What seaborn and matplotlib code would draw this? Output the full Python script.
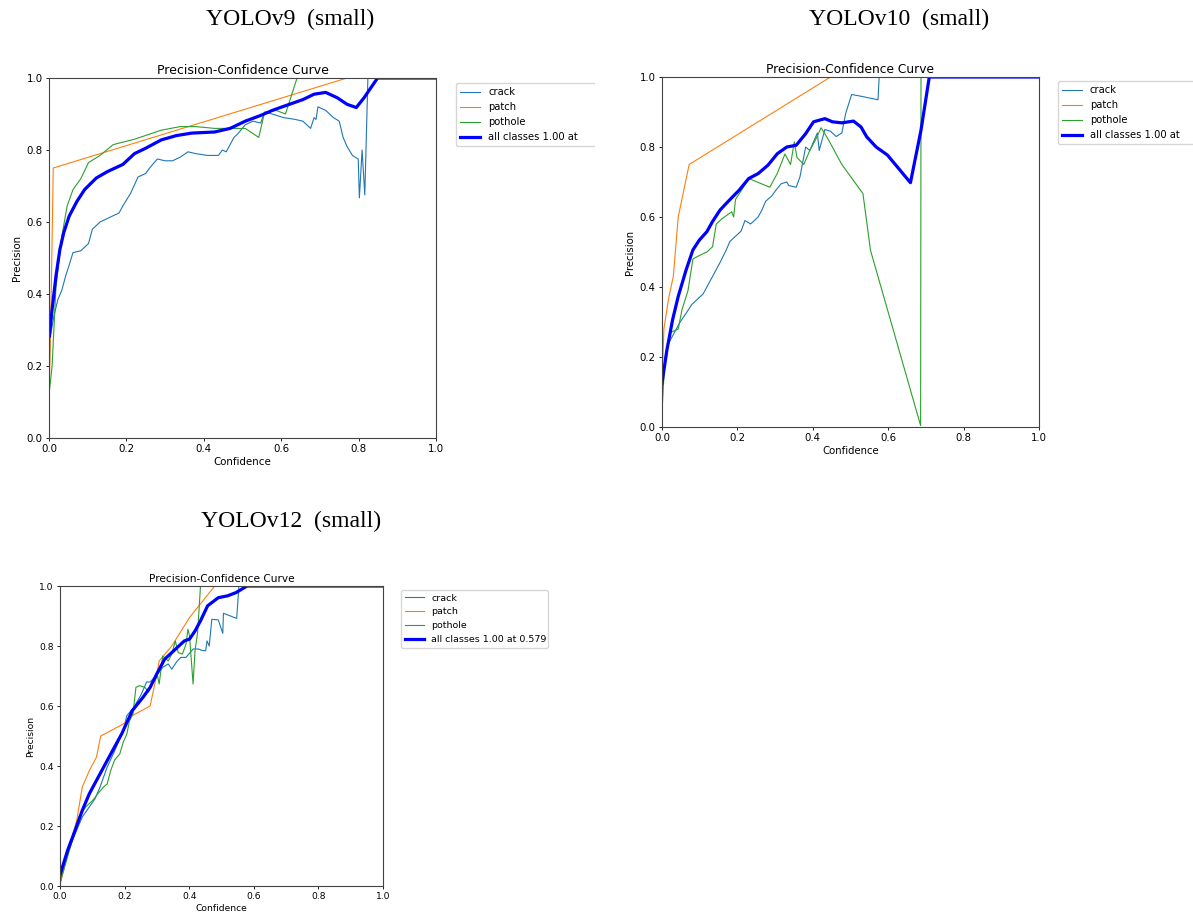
import numpy as np
import pandas as pd
import matplotlib
matplotlib.use("Agg")
import matplotlib.pyplot as plt
import seaborn as sns
from matplotlib.transforms import Bbox

# ---------------- data ----------------
model_titles = ["YOLOv9  (small)", "YOLOv10  (small)", "YOLOv12  (small)"]
class_names = ["crack", "patch", "pothole"]
all_labels = ["all classes 1.00 at", "all classes 1.00 at", "all classes 1.00 at 0.579"]

# YOLOv9
v9_crack_x = [0.0, 0.003, 0.013, 0.023, 0.033, 0.043, 0.052, 0.062, 0.082, 0.102, 0.112, 0.132, 0.161, 0.181,
              0.191, 0.211, 0.230, 0.250, 0.260, 0.280, 0.300, 0.319, 0.339, 0.359, 0.379, 0.409, 0.438, 0.448,
              0.458, 0.478, 0.488, 0.507, 0.527, 0.547, 0.557, 0.577, 0.606, 0.636, 0.656, 0.676, 0.685, 0.690,
              0.695, 0.715, 0.735, 0.750, 0.760, 0.770, 0.784, 0.799, 0.802, 0.809, 0.816, 0.824, 1.0]
v9_crack_y = [0.15, 0.28, 0.34, 0.385, 0.41, 0.45, 0.48, 0.515, 0.52, 0.54, 0.58, 0.60, 0.615, 0.625,
              0.645, 0.68, 0.725, 0.735, 0.75, 0.775, 0.77, 0.77, 0.78, 0.795, 0.79, 0.785, 0.785, 0.80,
              0.795, 0.835, 0.845, 0.87, 0.88, 0.875, 0.905, 0.90, 0.89, 0.885, 0.88, 0.86, 0.89, 0.885,
              0.92, 0.91, 0.89, 0.88, 0.835, 0.81, 0.785, 0.775, 0.667, 0.80, 0.675, 1.0, 1.0]
v9_patch_x = [0.0, 0.005, 0.011, 0.77, 1.0]
v9_patch_y = [0.11, 0.35, 0.75, 1.0, 1.0]
v9_pothole_x = [0.0, 0.008, 0.018, 0.033, 0.047, 0.062, 0.082, 0.102, 0.132, 0.166, 0.221, 0.290, 0.339,
                0.379, 0.428, 0.468, 0.507, 0.542, 0.557, 0.587, 0.611, 0.641, 1.0]
v9_pothole_y = [0.12, 0.20, 0.42, 0.56, 0.645, 0.69, 0.72, 0.765, 0.785, 0.815, 0.83, 0.855, 0.865,
                0.865, 0.86, 0.86, 0.86, 0.835, 0.905, 0.91, 0.90, 1.0, 1.0]
v9_all_x = [0.001, 0.008, 0.018, 0.028, 0.038, 0.052, 0.072, 0.092, 0.122, 0.151, 0.191, 0.221, 0.250,
            0.290, 0.329, 0.369, 0.428, 0.468, 0.507, 0.547, 0.577, 0.616, 0.656, 0.685, 0.715, 0.745,
            0.770, 0.794, 0.814, 0.849, 1.0]
v9_all_y = [0.283, 0.357, 0.45, 0.523, 0.57, 0.616, 0.657, 0.69, 0.722, 0.74, 0.76, 0.79, 0.805,
            0.828, 0.84, 0.847, 0.85, 0.86, 0.88, 0.896, 0.91, 0.925, 0.94, 0.955, 0.96, 0.945,
            0.927, 0.918, 0.945, 1.0, 1.0]

# YOLOv10
v10_crack_x = [0.0, 0.008, 0.018, 0.033, 0.048, 0.064, 0.079, 0.094, 0.109, 0.124, 0.139, 0.154, 0.170,
               0.180, 0.195, 0.210, 0.220, 0.235, 0.255, 0.265, 0.275, 0.291, 0.301, 0.316, 0.331, 0.336,
               0.356, 0.366, 0.381, 0.392, 0.412, 0.417, 0.432, 0.447, 0.462, 0.477, 0.487, 0.503, 0.528,
               0.573, 0.576, 1.0]
v10_crack_y = [0.125, 0.19, 0.24, 0.27, 0.30, 0.325, 0.35, 0.365, 0.38, 0.41, 0.44, 0.47, 0.505,
               0.53, 0.545, 0.56, 0.59, 0.58, 0.60, 0.62, 0.645, 0.66, 0.675, 0.695, 0.70, 0.69,
               0.685, 0.715, 0.80, 0.79, 0.84, 0.79, 0.85, 0.845, 0.83, 0.84, 0.895, 0.95, 0.945,
               0.935, 1.0, 1.0]
v10_patch_x = [0.0, 0.005, 0.018, 0.030, 0.043, 0.072, 0.447, 1.0]
v10_patch_y = [0.12, 0.28, 0.37, 0.43, 0.60, 0.75, 1.0, 1.0]
v10_pothole_x = [0.0, 0.008, 0.023, 0.043, 0.053, 0.069, 0.082, 0.099, 0.119, 0.134, 0.144, 0.159, 0.185,
                 0.190, 0.195, 0.210, 0.230, 0.286, 0.306, 0.326, 0.341, 0.351, 0.358, 0.376, 0.392, 0.407,
                 0.422, 0.442, 0.477, 0.533, 0.553, 0.686, 0.687, 1.0]
v10_pothole_y = [0.045, 0.20, 0.27, 0.28, 0.335, 0.39, 0.48, 0.49, 0.50, 0.515, 0.58, 0.595, 0.615,
                 0.60, 0.65, 0.675, 0.71, 0.685, 0.725, 0.78, 0.75, 0.815, 0.77, 0.75, 0.79, 0.82,
                 0.855, 0.82, 0.75, 0.667, 0.505, 0.004, 1.0, 1.0]
v10_all_x = [0.0, 0.013, 0.028, 0.043, 0.064, 0.082, 0.099, 0.119, 0.134, 0.154, 0.175, 0.205, 0.230,
             0.255, 0.281, 0.306, 0.331, 0.356, 0.381, 0.402, 0.432, 0.452, 0.477, 0.508, 0.528, 0.543,
             0.568, 0.598, 0.659, 0.687, 0.709, 1.0]
v10_all_y = [0.125, 0.22, 0.306, 0.373, 0.449, 0.506, 0.534, 0.558, 0.587, 0.62, 0.644, 0.677, 0.71,
             0.724, 0.748, 0.781, 0.80, 0.805, 0.838, 0.872, 0.881, 0.872, 0.869, 0.874, 0.857, 0.829,
             0.80, 0.777, 0.698, 0.848, 1.0, 1.0]

# YOLOv12
v12_crack_x = [0.0, 0.024, 0.047, 0.069, 0.091, 0.108, 0.124, 0.146, 0.169, 0.196, 0.207, 0.229, 0.252,
               0.268, 0.279, 0.302, 0.318, 0.335, 0.346, 0.363, 0.374, 0.390, 0.412, 0.429, 0.440, 0.451,
               0.455, 0.462, 0.470, 0.490, 0.504, 0.506, 0.547, 0.554, 1.0]
v12_crack_y = [0.02, 0.11, 0.175, 0.23, 0.264, 0.29, 0.33, 0.396, 0.45, 0.518, 0.568, 0.596, 0.64,
               0.68, 0.68, 0.706, 0.729, 0.74, 0.723, 0.75, 0.762, 0.762, 0.79, 0.79, 0.785, 0.784,
               0.817, 0.80, 0.889, 0.887, 0.842, 0.909, 0.892, 1.0, 1.0]
v12_patch_x = [0.0, 0.024, 0.052, 0.069, 0.091, 0.113, 0.126, 0.196, 0.224, 0.279, 0.302, 0.307, 0.346,
               0.401, 0.479, 1.0]
v12_patch_y = [0.003, 0.11, 0.22, 0.33, 0.385, 0.43, 0.50, 0.54, 0.568, 0.60, 0.717, 0.75, 0.80,
               0.895, 1.0, 1.0]
v12_pothole_x = [0.0, 0.035, 0.058, 0.080, 0.102, 0.119, 0.135, 0.146, 0.157, 0.169, 0.185, 0.196, 0.207,
                 0.215, 0.226, 0.235, 0.246, 0.263, 0.274, 0.285, 0.302, 0.307, 0.318, 0.335, 0.346, 0.357,
                 0.366, 0.379, 0.390, 0.396, 0.401, 0.412, 0.418, 0.426, 0.435, 1.0]
v12_pothole_y = [0.01, 0.14, 0.23, 0.264, 0.286, 0.31, 0.33, 0.34, 0.385, 0.42, 0.44, 0.48, 0.507,
                 0.55, 0.574, 0.662, 0.668, 0.662, 0.646, 0.673, 0.70, 0.673, 0.767, 0.75, 0.773, 0.817,
                 0.778, 0.773, 0.806, 0.856, 0.834, 0.673, 0.784, 0.845, 1.0, 1.0]
v12_all_x = [0.0, 0.024, 0.047, 0.069, 0.091, 0.124, 0.157, 0.191, 0.224, 0.257, 0.279, 0.302, 0.324,
             0.346, 0.368, 0.385, 0.401, 0.418, 0.435, 0.457, 0.490, 0.518, 0.545, 0.579, 1.0]
v12_all_y = [0.037, 0.12, 0.186, 0.252, 0.308, 0.374, 0.44, 0.507, 0.585, 0.629, 0.662, 0.712, 0.756,
             0.778, 0.80, 0.817, 0.823, 0.85, 0.884, 0.934, 0.961, 0.967, 0.978, 1.0, 1.0]

panels = [
    [(v9_crack_x, v9_crack_y), (v9_patch_x, v9_patch_y), (v9_pothole_x, v9_pothole_y), (v9_all_x, v9_all_y)],
    [(v10_crack_x, v10_crack_y), (v10_patch_x, v10_patch_y), (v10_pothole_x, v10_pothole_y), (v10_all_x, v10_all_y)],
    [(v12_crack_x, v12_crack_y), (v12_patch_x, v12_patch_y), (v12_pothole_x, v12_pothole_y), (v12_all_x, v12_all_y)],
]

# ---------------- layout ----------------
W, H = 1193, 918
fig = plt.figure(figsize=(W / 100, H / 100), dpi=100)
fig.patch.set_facecolor("white")

# (left, top, right, bottom) in pixels
axes_px = [(49, 78, 436, 438), (662, 77, 1039, 427), (60, 586, 383, 886)]
fs = [(9.0, 7.4, 7.2), (8.8, 7.3, 7.2), (7.6, 6.6, 6.8)]   # title, ticks/labels, legend
legend_px = [(456, 83, 612, 0.0), (1058, 81, 1215, 0.0), (401, 590, 548, 0.0)]
clip_right = [595, 1193, 1193]
suptitle_pos = [(290, 19), (899, 19), (291, 521)]

colors = ["#1f77b4", "#ff7f0e", "#2ca02c", "blue"]
widths = [0.8, 0.8, 0.8, 2.3]

for i, (series, (l, t, r, b)) in enumerate(zip(panels, axes_px)):
    ax = fig.add_axes([l / W, 1 - b / H, (r - l) / W, (b - t) / H])
    labels = class_names + [all_labels[i]]
    for (xs, ys), lab, c, lw in zip(series, labels, colors, widths):
        df = pd.DataFrame({"Confidence": xs, "Precision": ys})
        sns.lineplot(data=df, x="Confidence", y="Precision", ax=ax, sort=False, estimator=None,
                     color=c, linewidth=lw, label=lab)
    ax.set_xlim(0, 1)
    ax.set_ylim(0, 1)
    ax.set_xticks([0, 0.2, 0.4, 0.6, 0.8, 1.0])
    ax.set_yticks([0, 0.2, 0.4, 0.6, 0.8, 1.0])
    tfs, kfs, lfs = fs[i]
    ax.set_title("Precision-Confidence Curve", fontsize=tfs, pad=3)
    ax.set_xlabel("Confidence", fontsize=kfs, labelpad=2)
    ax.set_ylabel("Precision", fontsize=kfs, labelpad=3)
    ax.tick_params(labelsize=kfs, length=2.5, width=0.6, pad=2)
    for s in ax.spines.values():
        s.set_linewidth(0.8)
        s.set_color("#444444")
    ll, lt, lr, _ = legend_px[i]
    x0 = (ll - l) / (r - l)
    y0 = (b - lt) / (b - t)
    wdt = (lr - ll) / (r - l)
    leg = ax.legend(loc="upper left", bbox_to_anchor=(x0, y0 - 0.3, wdt, 0.3), mode="expand",
                    borderaxespad=0, fontsize=lfs, frameon=True)
    clip = Bbox([[0, 0], [clip_right[i], H]])
    leg.get_frame().set_clip_box(clip)
    leg.get_frame().set_clip_on(True)
    for txt in leg.get_texts():
        txt.set_clip_box(clip)
        txt.set_clip_on(True)

for (cx, cy), ttl in zip(suptitle_pos, model_titles):
    fig.text(cx / W, 1 - cy / H, ttl, ha="center", va="center", fontsize=17,
             family=["Liberation Serif", "DejaVu Serif"])

fig.savefig("out.png", dpi=100, facecolor="white")
